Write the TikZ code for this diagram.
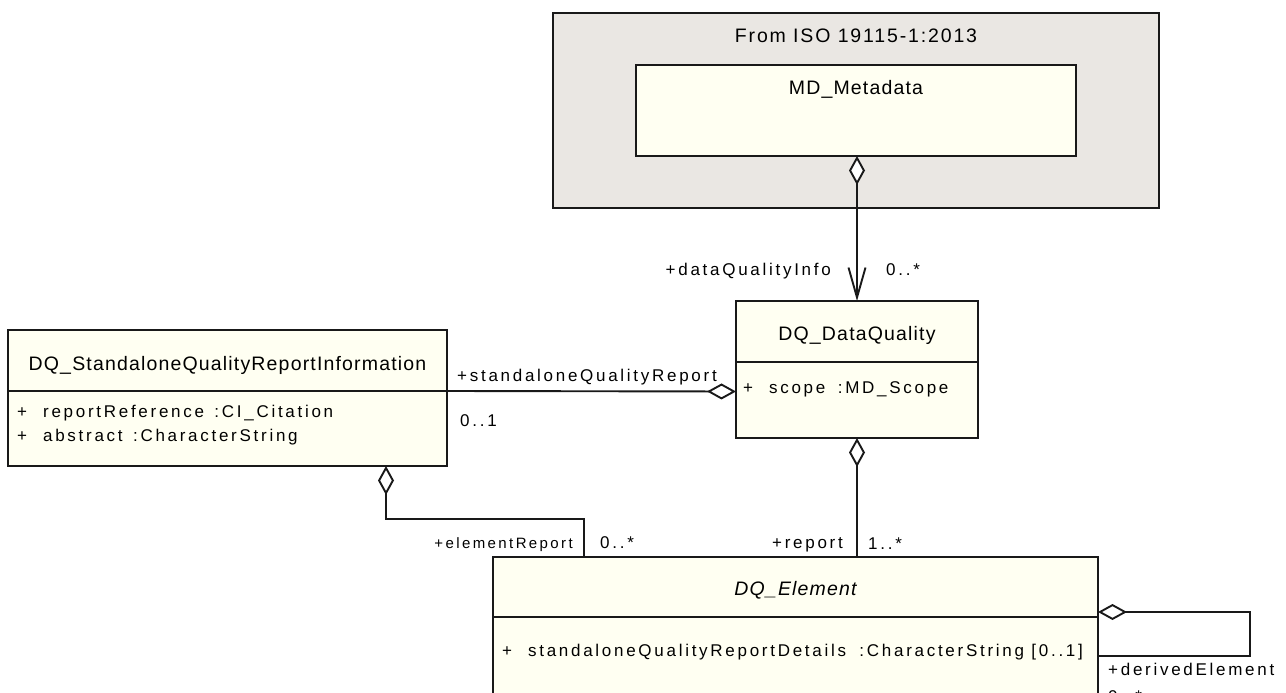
\documentclass[tikz,border=0pt]{standalone}
\usepackage{fontspec}
\setmainfont{Liberation Sans}
\newfontfamily\titlefont[LetterSpace=6]{Liberation Sans}
\newfontfamily\pkgfont[LetterSpace=9.5]{Liberation Sans}
\newfontfamily\lblfont[LetterSpace=16]{Liberation Sans}
\usetikzlibrary{arrows.meta}
\definecolor{classfill}{RGB}{255,255,242}
\definecolor{pkgfill}{RGB}{234,231,227}
\definecolor{linec}{RGB}{25,25,25}
\tikzset{
  box/.style={draw=linec, line width=1.9pt, fill=classfill, anchor=north west, inner sep=0pt, outer sep=0pt},
  ttl/.style={inner sep=0pt, anchor=base, font=\titlefont\fontsize{19.5}{22}\selectfont},
  attr/.style={inner sep=0pt, anchor=base west, font=\lblfont\fontsize{17}{20}\selectfont},
  lbl/.style={inner sep=0pt, font=\lblfont\fontsize{17}{20}\selectfont},
  lblsmall/.style={inner sep=0pt, font=\lblfont\fontsize{15}{18}\selectfont},
  conn/.style={draw=linec, line width=1.9pt},
  agg/.tip={Diamond[fill=white, length=29pt, width=16pt]},
  nav/.tip={Straight Barb[length=30pt, width=17pt]}
}
\begin{document}
\begin{tikzpicture}[x=1pt, y=-1pt]
\clip (0,0) rectangle (1286,693);
\fill[white] (0,0) rectangle (1286,693);
% package
\node[box, fill=pkgfill, minimum width=606pt, minimum height=195pt] (pkg) at (553,13) {};
\node[ttl, font=\pkgfont\fontsize{19.5}{22}\selectfont] (pkgT) at (856,43) {From ISO 19115-1:2013};
% MD_Metadata
\node[box, minimum width=440pt, minimum height=91pt] (md) at (636,65) {};
\node[ttl] (mdT) at (856,95) {MD\_Metadata};
% DQ_DataQuality
\node[box, minimum width=242pt, minimum height=137pt] (dq) at (736,301) {};
\draw[conn] ([yshift=-61pt]dq.north west) -- ([yshift=-61pt]dq.north east);
\node[ttl] (dqT) at (857,340) {DQ\_DataQuality};
\node[attr] (dqA) at (743,393) {+\hspace{16pt}scope \hspace{5pt}:MD\_Scope};
% DQ_StandaloneQualityReportInformation
\node[box, minimum width=439pt, minimum height=136pt] (sq) at (8,330) {};
\draw[conn] ([yshift=-61pt]sq.north west) -- ([yshift=-61pt]sq.north east);
\node[ttl] (sqT) at (227.5,370) {DQ\_StandaloneQualityReportInformation};
\node[attr] (sqA1) at (17,417) {+\hspace{16pt}reportReference \hspace{3pt}:CI\_Citation};
\node[attr] (sqA2) at (17,441) {+\hspace{16pt}abstract \hspace{3pt}:CharacterString};
% DQ_Element
\node[box, minimum width=605pt, minimum height=170pt] (el) at (493,557) {};
\draw[conn] ([yshift=-60pt]el.north west) -- ([yshift=-60pt]el.north east);
\node[ttl, font=\titlefont\itshape\fontsize{19.5}{22}\selectfont] (elT) at (795.5,595) {DQ\_Element};
\node[attr] (elA) at (502,656) {+\hspace{16pt}standaloneQualityReportDetails \hspace{6pt}:CharacterString [0..1]};
% connectors
\draw[conn, {agg}-{nav}] (dq.north |- md.south) -- (dq.north);
\draw[conn, -{agg}] ([yshift=-61pt]sq.north east) -- ([yshift=-90.5pt]dq.north west);
\draw[conn, {agg}-] (dq.south) -- (dq.south |- el.north);
\draw[conn, {agg}-] ([xshift=378pt]sq.south west) -- ++(0,53) -| ([xshift=91pt]el.north west);
\draw[conn, {agg}-] ([yshift=-55pt]el.north east) -- ++(152,0) |- ([yshift=-99pt]el.north east);
% role labels
\node[lbl, anchor=base east] (dqiL) at (831,275) {+dataQualityInfo};
\node[lbl, anchor=base west] (dqiM) at (886,275) {0..*};
\node[lbl, anchor=base west] (sqrL) at (457,381) {+standaloneQualityReport};
\node[lbl, anchor=base west] (sqrM) at (460,426) {0..1};
\node[lblsmall, anchor=base east] (erL) at (573,548) {+elementReport};
\node[lbl, anchor=base west] (erM) at (600,548) {0..*};
\node[lbl, anchor=base east] (rL) at (843,548) {+report};
\node[lbl, anchor=base west] (rM) at (868,549) {1..*};
\node[lbl, anchor=base west] (deL) at (1108,675) {+derivedElement};
\node[lbl, anchor=base west] (deM) at (1108,702) {0..*};
\end{tikzpicture}
\end{document}
